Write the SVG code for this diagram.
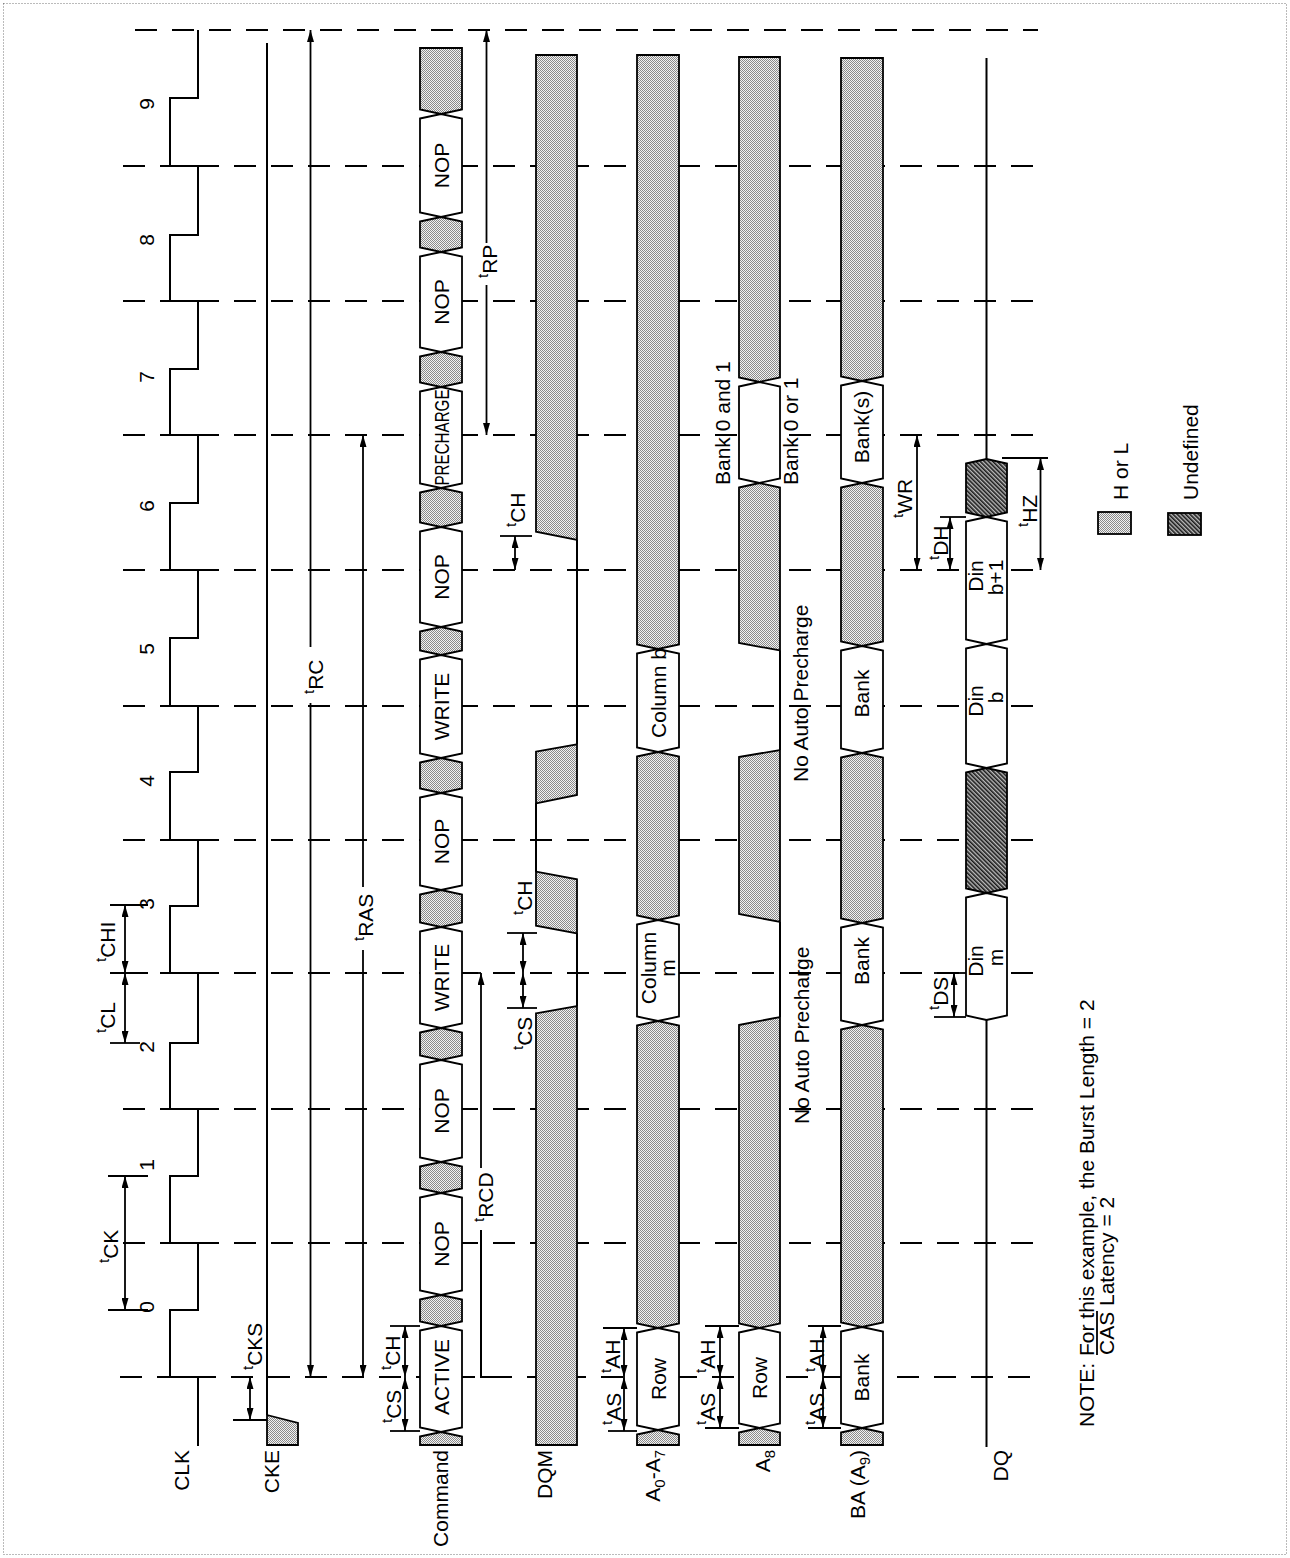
<svg xmlns="http://www.w3.org/2000/svg" width="1290" height="1558" viewBox="0 0 1290 1558">
<defs>
<pattern id="dots" width="2" height="2" patternUnits="userSpaceOnUse"><rect width="2" height="2" fill="#f2f2f2"/><rect width="1" height="1" fill="#8a8a8a"/><rect x="1" y="1" width="1" height="1" fill="#8a8a8a"/></pattern>
<pattern id="hatch" width="3" height="3" patternUnits="userSpaceOnUse" patternTransform="rotate(-45)"><rect width="3" height="3" fill="#bdbdbd"/><rect width="1.6" height="3" fill="#1a1a1a"/></pattern>
<marker id="ah" viewBox="0 0 12 7" refX="12" refY="3.5" markerWidth="12" markerHeight="7" markerUnits="userSpaceOnUse" orient="auto-start-reverse"><path d="M0,0 L12,3.5 L0,7 z" fill="#000"/></marker>
<style>
.ln{fill:none;stroke:#000;stroke-width:2}
.dash{stroke:#000;stroke-width:2;stroke-dasharray:22 15}
.g{fill:url(#dots);stroke:#000;stroke-width:1.8}
.w{fill:#fff;stroke:#000;stroke-width:1.8}
.u{fill:url(#hatch);stroke:#000;stroke-width:1.8}
.ar{fill:none;stroke:#000;stroke-width:1.8;marker-end:url(#ah)}
.a2{fill:none;stroke:#000;stroke-width:1.8;marker-start:url(#ah);marker-end:url(#ah)}
.tk{stroke:#000;stroke-width:1.8}
text{font-family:"Liberation Sans",Arial,Helvetica,sans-serif;font-size:21px;fill:#000}
.m{text-anchor:middle}
.e{text-anchor:end}
.ts{font-size:15px}
</style>
</defs>
<rect x="3.5" y="3.5" width="1283" height="1551" fill="#fff" stroke="#777" stroke-width="1" stroke-dasharray="1 2"/>

<g id="clock-edges">
<line class="dash" x1="135" y1="30" x2="1038" y2="30"/>
<line class="dash" x1="123" y1="166" x2="1038" y2="166"/>
<line class="dash" x1="123" y1="301" x2="1038" y2="301"/>
<line class="dash" x1="123" y1="435" x2="1038" y2="435"/>
<line class="dash" x1="123" y1="570" x2="1038" y2="570"/>
<line class="dash" x1="123" y1="706" x2="1038" y2="706"/>
<line class="dash" x1="123" y1="840" x2="1038" y2="840"/>
<line class="dash" x1="123" y1="973" x2="1038" y2="973"/>
<line class="dash" x1="123" y1="1109" x2="1038" y2="1109"/>
<line class="dash" x1="123" y1="1243" x2="1038" y2="1243"/>
<line class="dash" x1="120" y1="1377" x2="1038" y2="1377"/>
</g>

<g id="clk">
<path class="ln" d="M198,1446 V1377 H170 V1310 H198 V1243 H170 V1176 H198 V1109 H170 V1043 H198 V973 H170 V906 H198 V840 H170 V772 H198 V706 H170 V638 H198 V570 H170 V503 H198 V435 H170 V369 H198 V301 H170 V235 H198 V166 H170 V98 H198 V30"/>
<text class="m" transform="translate(154,1307) rotate(-90)">0</text>
<text class="m" transform="translate(154,1165) rotate(-90)">1</text>
<text class="m" transform="translate(154,1047) rotate(-90)">2</text>
<text class="m" transform="translate(154,904) rotate(-90)">3</text>
<text class="m" transform="translate(154,781) rotate(-90)">4</text>
<text class="m" transform="translate(154,649) rotate(-90)">5</text>
<text class="m" transform="translate(154,506) rotate(-90)">6</text>
<text class="m" transform="translate(154,377) rotate(-90)">7</text>
<text class="m" transform="translate(154,240) rotate(-90)">8</text>
<text class="m" transform="translate(154,104) rotate(-90)">9</text>
<text class="e" transform="translate(189,1450) rotate(-90)">CLK</text>
</g>

<g id="cke">
<line class="ln" x1="267" y1="43" x2="267" y2="1415"/>
<polygon class="g" points="267,1415 298,1423 298,1445 267,1445"/>
<text class="e" transform="translate(279,1450) rotate(-90)">CKE</text>
</g>

<g id="connectors">
<line class="ar" x1="310.5" y1="647" x2="310.5" y2="30"/>
<line class="ar" x1="310.5" y1="703" x2="310.5" y2="1377"/>
<line class="ar" x1="363" y1="887" x2="363" y2="435"/>
<line class="ar" x1="363" y1="950" x2="363" y2="1377"/>
<line class="ar" x1="486.5" y1="243" x2="486.5" y2="30"/>
<line class="ar" x1="486.5" y1="285" x2="486.5" y2="435"/>
<polyline class="ln" points="500,1377 481,1377 481,1230"/>
<line class="ar" x1="481" y1="1168" x2="481" y2="973"/>
<line class="tk" x1="462" y1="973" x2="481" y2="973"/>
<line class="a2" x1="917" y1="435" x2="917" y2="570"/>
<line class="a2" x1="1040.5" y1="458" x2="1040.5" y2="570"/>
<line class="tk" x1="1002" y1="458" x2="1048" y2="458"/>
<line class="a2" x1="950" y1="517" x2="950" y2="570"/>
<line class="tk" x1="940" y1="517" x2="966" y2="517"/>
<line class="a2" x1="954" y1="973" x2="954" y2="1017"/>
<line class="tk" x1="934" y1="973" x2="966" y2="973"/>
<line class="tk" x1="934" y1="1017" x2="966" y2="1017"/>
<line class="a2" x1="125" y1="1176" x2="125" y2="1310"/>
<line class="tk" x1="108" y1="1176" x2="148" y2="1176"/>
<line class="tk" x1="108" y1="1310" x2="148" y2="1310"/>
<line class="a2" x1="125" y1="973" x2="125" y2="1043"/>
<line class="tk" x1="110" y1="1043" x2="140" y2="1043"/>
<line class="tk" x1="110" y1="973" x2="148" y2="973"/>
<line class="a2" x1="125" y1="905" x2="125" y2="973"/>
<line class="tk" x1="110" y1="905" x2="148" y2="905"/>
<line class="a2" x1="250" y1="1377" x2="250" y2="1420"/>
<line class="tk" x1="233" y1="1420" x2="267" y2="1420"/>
<line class="a2" x1="405" y1="1326" x2="405" y2="1377"/>
<line class="a2" x1="405" y1="1377" x2="405" y2="1431"/>
<line class="tk" x1="390" y1="1326" x2="420" y2="1326"/>
<line class="tk" x1="390" y1="1431" x2="420" y2="1431"/>
<line class="a2" x1="523" y1="933" x2="523" y2="973"/>
<line class="a2" x1="523" y1="973" x2="523" y2="1008"/>
<line class="tk" x1="507" y1="933" x2="537" y2="933"/>
<line class="tk" x1="507" y1="1008" x2="537" y2="1008"/>
<line class="a2" x1="515" y1="536" x2="515" y2="570"/>
<line class="tk" x1="500" y1="536" x2="532" y2="536"/>
<line class="a2" x1="624" y1="1328" x2="624" y2="1377"/>
<line class="a2" x1="624" y1="1377" x2="624" y2="1431"/>
<line class="tk" x1="603" y1="1328" x2="637" y2="1328"/>
<line class="tk" x1="608" y1="1431" x2="637" y2="1431"/>
<line class="a2" x1="720" y1="1326" x2="720" y2="1377"/>
<line class="a2" x1="720" y1="1377" x2="720" y2="1428"/>
<line class="tk" x1="705" y1="1326" x2="739" y2="1326"/>
<line class="tk" x1="705" y1="1428" x2="739" y2="1428"/>
<line class="a2" x1="823" y1="1326" x2="823" y2="1377"/>
<line class="a2" x1="823" y1="1377" x2="823" y2="1428"/>
<line class="tk" x1="808" y1="1326" x2="841" y2="1326"/>
<line class="tk" x1="808" y1="1428" x2="841" y2="1428"/>
</g>

<g id="timing-labels">
<text transform="translate(118,1263) rotate(-90)"><tspan class="ts" dy="-9">t</tspan><tspan dy="9">CK</tspan></text>
<text transform="translate(115,1033) rotate(-90)"><tspan class="ts" dy="-9">t</tspan><tspan dy="9">CL</tspan></text>
<text transform="translate(115,962) rotate(-90)"><tspan class="ts" dy="-9">t</tspan><tspan dy="9">CHI</tspan></text>
<text transform="translate(262,1370) rotate(-90)"><tspan class="ts" dy="-9">t</tspan><tspan dy="9">CKS</tspan></text>
<text transform="translate(323,694) rotate(-90)"><tspan class="ts" dy="-9">t</tspan><tspan dy="9">RC</tspan></text>
<text transform="translate(373,941) rotate(-90)"><tspan class="ts" dy="-9">t</tspan><tspan dy="9">RAS</tspan></text>
<text transform="translate(497,278) rotate(-90)"><tspan class="ts" dy="-9">t</tspan><tspan dy="9">RP</tspan></text>
<text transform="translate(493,1222) rotate(-90)"><tspan class="ts" dy="-9">t</tspan><tspan dy="9">RCD</tspan></text>
<text transform="translate(400,1370) rotate(-90)"><tspan class="ts" dy="-9">t</tspan><tspan dy="9">CH</tspan></text>
<text transform="translate(401,1423) rotate(-90)"><tspan class="ts" dy="-9">t</tspan><tspan dy="9">CS</tspan></text>
<text transform="translate(532,915) rotate(-90)"><tspan class="ts" dy="-9">t</tspan><tspan dy="9">CH</tspan></text>
<text transform="translate(532,1050) rotate(-90)"><tspan class="ts" dy="-9">t</tspan><tspan dy="9">CS</tspan></text>
<text transform="translate(525,527) rotate(-90)"><tspan class="ts" dy="-9">t</tspan><tspan dy="9">CH</tspan></text>
<text transform="translate(620,1373) rotate(-90)"><tspan class="ts" dy="-9">t</tspan><tspan dy="9">AH</tspan></text>
<text transform="translate(621,1425) rotate(-90)"><tspan class="ts" dy="-9">t</tspan><tspan dy="9">AS</tspan></text>
<text transform="translate(715,1373) rotate(-90)"><tspan class="ts" dy="-9">t</tspan><tspan dy="9">AH</tspan></text>
<text transform="translate(715,1425) rotate(-90)"><tspan class="ts" dy="-9">t</tspan><tspan dy="9">AS</tspan></text>
<text transform="translate(824,1372) rotate(-90)"><tspan class="ts" dy="-9">t</tspan><tspan dy="9">AH</tspan></text>
<text transform="translate(824,1425) rotate(-90)"><tspan class="ts" dy="-9">t</tspan><tspan dy="9">AS</tspan></text>
<text transform="translate(948,1010) rotate(-90)"><tspan class="ts" dy="-9">t</tspan><tspan dy="9">DS</tspan></text>
<text transform="translate(948,560) rotate(-90)"><tspan class="ts" dy="-9">t</tspan><tspan dy="9">DH</tspan></text>
<text transform="translate(912,518) rotate(-90)"><tspan class="ts" dy="-9">t</tspan><tspan dy="9">WR</tspan></text>
<text transform="translate(1037,527) rotate(-90)"><tspan class="ts" dy="-9">t</tspan><tspan dy="9">HZ</tspan></text>
</g>

<g id="command">
<polygon class="g" points="420,48 462,48 462,109.5 441,114 420,109.5"/>
<polygon class="w" points="420,118.5 441,114 462,118.5 462,212.5 441,217 420,212.5"/>
<polygon class="g" points="420,221.5 441,217 462,221.5 462,247.5 441,252 420,247.5"/>
<polygon class="w" points="420,256.5 441,252 462,256.5 462,347.5 441,352 420,347.5"/>
<polygon class="g" points="420,356.5 441,352 462,356.5 462,382.5 441,387 420,382.5"/>
<polygon class="w" points="420,391.5 441,387 462,391.5 462,483.5 441,488 420,483.5"/>
<polygon class="g" points="420,492.5 441,488 462,492.5 462,522.5 441,527 420,522.5"/>
<polygon class="w" points="420,531.5 441,527 462,531.5 462,622.5 441,627 420,622.5"/>
<polygon class="g" points="420,631.5 441,627 462,631.5 462,650.5 441,655 420,650.5"/>
<polygon class="w" points="420,659.5 441,655 462,659.5 462,753.5 441,758 420,753.5"/>
<polygon class="g" points="420,762.5 441,758 462,762.5 462,788.5 441,793 420,788.5"/>
<polygon class="w" points="420,797.5 441,793 462,797.5 462,885.5 441,890 420,885.5"/>
<polygon class="g" points="420,894.5 441,890 462,894.5 462,922.5 441,927 420,922.5"/>
<polygon class="w" points="420,931.5 441,927 462,931.5 462,1023.5 441,1028 420,1023.5"/>
<polygon class="g" points="420,1032.5 441,1028 462,1032.5 462,1055.5 441,1060 420,1055.5"/>
<polygon class="w" points="420,1064.5 441,1060 462,1064.5 462,1157.5 441,1162 420,1157.5"/>
<polygon class="g" points="420,1166.5 441,1162 462,1166.5 462,1188.5 441,1193 420,1188.5"/>
<polygon class="w" points="420,1197.5 441,1193 462,1197.5 462,1290.5 441,1295 420,1290.5"/>
<polygon class="g" points="420,1299.5 441,1295 462,1299.5 462,1321.5 441,1326 420,1321.5"/>
<polygon class="w" points="420,1330.5 441,1326 462,1330.5 462,1427.5 441,1432 420,1427.5"/>
<polygon class="g" points="420,1436.5 441,1432 462,1436.5 462,1445 420,1445"/>
<text class="m" transform="translate(448.5,165.5) rotate(-90)">NOP</text>
<text class="m" transform="translate(448.5,302) rotate(-90)">NOP</text>
<text class="m" transform="translate(448.5,437.5) rotate(-90)" textLength="96" lengthAdjust="spacingAndGlyphs">PRECHARGE</text>
<text class="m" transform="translate(448.5,577) rotate(-90)">NOP</text>
<text class="m" transform="translate(448.5,706.5) rotate(-90)">WRITE</text>
<text class="m" transform="translate(448.5,841.5) rotate(-90)">NOP</text>
<text class="m" transform="translate(448.5,977.5) rotate(-90)">WRITE</text>
<text class="m" transform="translate(448.5,1111) rotate(-90)">NOP</text>
<text class="m" transform="translate(448.5,1244) rotate(-90)">NOP</text>
<text class="m" transform="translate(448.5,1377) rotate(-90)">ACTIVE</text>
<text class="e" transform="translate(448,1450) rotate(-90)">Command</text>
</g>

<g id="dqm">
<polygon class="g" points="536,55 577,55 577,540 536,531.7"/>
<line class="ln" x1="577" y1="540" x2="577" y2="744.3"/>
<polygon class="g" points="536,751.7 577,744.3 577,795 536,803.3"/>
<line class="ln" x1="536" y1="803.3" x2="536" y2="871.7"/>
<polygon class="g" points="536,871.7 577,879.3 577,933.3 536,925.7"/>
<line class="ln" x1="577" y1="933.3" x2="577" y2="1006"/>
<polygon class="g" points="536,1013.3 577,1006 577,1445 536,1445"/>
<text class="e" transform="translate(552,1450) rotate(-90)">DQM</text>
</g>

<g id="a0-a7">
<polygon class="g" points="637,55 679,55 679,644.5 658,649 637,644.5"/>
<polygon class="w" points="637,653.5 658,649 679,653.5 679,747.5 658,752 637,747.5"/>
<polygon class="g" points="637,756.5 658,752 679,756.5 679,915.5 658,920 637,915.5"/>
<polygon class="w" points="637,924.5 658,920 679,924.5 679,1016.5 658,1021 637,1016.5"/>
<polygon class="g" points="637,1025.5 658,1021 679,1025.5 679,1323.5 658,1328 637,1323.5"/>
<polygon class="w" points="637,1332.5 658,1328 679,1332.5 679,1425.5 658,1430 637,1425.5"/>
<polygon class="g" points="637,1434.5 658,1430 679,1434.5 679,1445 637,1445"/>
<text class="m" transform="translate(665.5,693) rotate(-90)">Column b</text>
<text class="m" transform="translate(656,968) rotate(-90)">Column</text>
<text class="m" transform="translate(675,968) rotate(-90)">m</text>
<text class="m" transform="translate(665.5,1379) rotate(-90)">Row</text>
<text class="e" transform="translate(660,1450) rotate(-90)">A<tspan class="ts" dy="5">0</tspan><tspan dy="-5">-A</tspan><tspan class="ts" dy="5">7</tspan></text>
</g>

<g id="a8">
<polygon class="g" points="739,57 780,57 780,377.5 759.5,382 739,377.5"/>
<polygon class="w" points="739,386.5 759.5,382 780,386.5 780,478.5 759.5,483 739,478.5"/>
<polygon class="g" points="739,487.5 759.5,483 780,487.5 780,650.5 739,643"/>
<line class="ln" x1="780" y1="650.5" x2="780" y2="750"/>
<polygon class="g" points="739,757 780,750 780,922 739,914"/>
<line class="ln" x1="780" y1="922" x2="780" y2="1017"/>
<polygon class="g" points="739,1025 780,1017 780,1323.5 759.5,1328 739,1323.5"/>
<polygon class="w" points="739,1332.5 759.5,1328 780,1332.5 780,1423.5 759.5,1428 739,1423.5"/>
<polygon class="g" points="739,1432.5 759.5,1428 780,1432.5 780,1445 739,1445"/>
<text class="m" transform="translate(767,1378) rotate(-90)">Row</text>
<text transform="translate(730,485) rotate(-90)">Bank 0 and 1</text>
<text transform="translate(798,485) rotate(-90)">Bank 0 or 1</text>
<text transform="translate(808,782) rotate(-90)">No Auto Precharge</text>
<text transform="translate(809,1124) rotate(-90)">No Auto Precharge</text>
<text class="e" transform="translate(770,1450) rotate(-90)">A<tspan class="ts" dy="5">8</tspan></text>
</g>

<g id="ba">
<polygon class="g" points="841,58 883,58 883,376.5 862,381 841,376.5"/>
<polygon class="w" points="841,385.5 862,381 883,385.5 883,478.5 862,483 841,478.5"/>
<polygon class="g" points="841,487.5 862,483 883,487.5 883,641.5 862,646 841,641.5"/>
<polygon class="w" points="841,650.5 862,646 883,650.5 883,748.5 862,753 841,748.5"/>
<polygon class="g" points="841,757.5 862,753 883,757.5 883,918.5 862,923 841,918.5"/>
<polygon class="w" points="841,927.5 862,923 883,927.5 883,1020.5 862,1025 841,1020.5"/>
<polygon class="g" points="841,1029.5 862,1025 883,1029.5 883,1322.5 862,1327 841,1322.5"/>
<polygon class="w" points="841,1331.5 862,1327 883,1331.5 883,1423.5 862,1428 841,1423.5"/>
<polygon class="g" points="841,1432.5 862,1428 883,1432.5 883,1445 841,1445"/>
<text class="m" transform="translate(869,427) rotate(-90)">Bank(s)</text>
<text class="m" transform="translate(869,693.5) rotate(-90)">Bank</text>
<text class="m" transform="translate(869,961) rotate(-90)">Bank</text>
<text class="m" transform="translate(869,1377.5) rotate(-90)">Bank</text>
<text class="e" transform="translate(865,1450) rotate(-90)">BA (A<tspan class="ts" dy="5">9</tspan><tspan dy="-5">)</tspan></text>
</g>

<g id="dq">
<line class="ln" x1="986.5" y1="58" x2="986.5" y2="459"/>
<polygon class="u" points="966,463.5 986.5,459 1007,463.5 1007,512.5 986.5,517 966,512.5"/>
<polygon class="w" points="966,521.5 986.5,517 1007,521.5 1007,639.5 986.5,644 966,639.5"/>
<polygon class="w" points="966,648.5 986.5,644 1007,648.5 1007,763.5 986.5,768 966,763.5"/>
<polygon class="u" points="966,772.5 986.5,768 1007,772.5 1007,888.5 986.5,893 966,888.5"/>
<polygon class="w" points="966,897.5 986.5,893 1007,897.5 1007,1015.5 986.5,1020 966,1015.5"/>
<line class="ln" x1="986.5" y1="1020" x2="986.5" y2="1447"/>
<text class="m" transform="translate(983,576) rotate(-90)">Din</text>
<text class="m" transform="translate(1003,577.5) rotate(-90)">b+1</text>
<text class="m" transform="translate(983,701) rotate(-90)">Din</text>
<text class="m" transform="translate(1003,697.5) rotate(-90)">b</text>
<text class="m" transform="translate(983,961) rotate(-90)">Din</text>
<text class="m" transform="translate(1003,957.5) rotate(-90)">m</text>
<text class="e" transform="translate(1008,1450) rotate(-90)">DQ</text>
</g>

<g id="legend">
<rect class="g" x="1098" y="512" width="33" height="22"/>
<text transform="translate(1128,500) rotate(-90)">H or L</text>
<rect class="u" x="1168" y="513" width="33" height="22"/>
<text transform="translate(1198,500) rotate(-90)">Undefined</text>
</g>

<g id="note">
<text transform="translate(1093.5,1427) rotate(-90)">NOTE:</text>
<text transform="translate(1093.5,1356) rotate(-90)">For this example, the Burst Length = 2</text>
<text transform="translate(1113.5,1355) rotate(-90)">CAS Latency = 2</text>
<line class="tk" x1="1097" y1="1355" x2="1097" y2="1311"/>
</g>
</svg>
